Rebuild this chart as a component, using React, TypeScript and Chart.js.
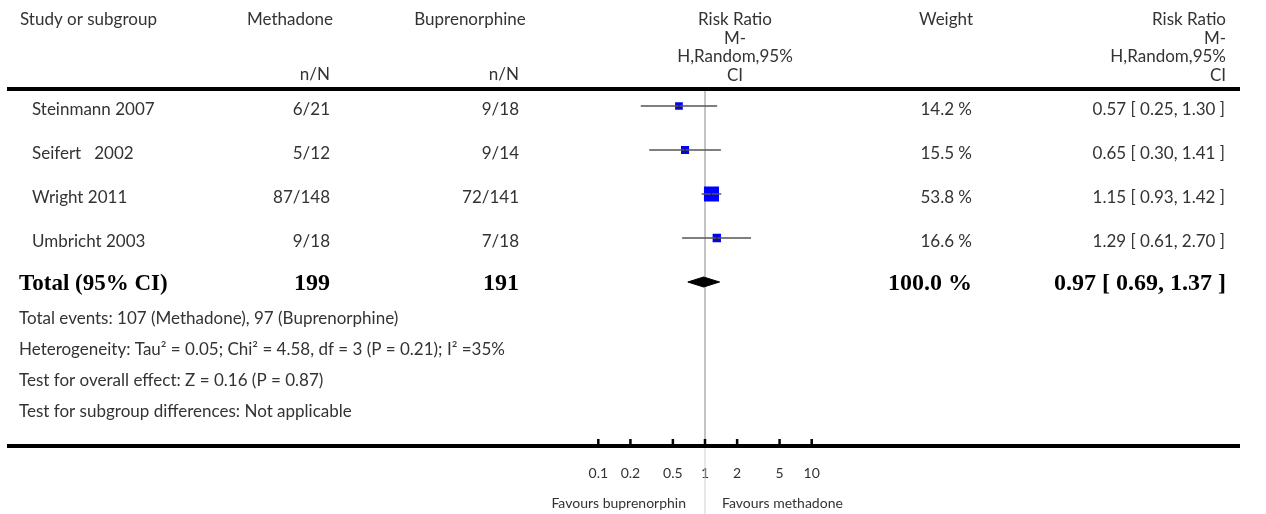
import React, { useEffect, useRef } from 'react';
import { Chart, registerables } from 'chart.js';

Chart.register(...registerables);

// ---------- data ----------
const STUDIES = ['Steinmann 2007', 'Seifert   2002', 'Wright 2011', 'Umbricht 2003'];
const METHADONE_EVENTS = [6, 5, 87, 9];
const METHADONE_TOTAL = [21, 12, 148, 18];
const BUPRENORPHINE_EVENTS = [9, 9, 72, 7];
const BUPRENORPHINE_TOTAL = [18, 14, 141, 18];
const WEIGHTS = [14.2, 15.5, 53.8, 16.6];
const RISK_RATIO = [0.57, 0.65, 1.15, 1.29];
const CI_LOW = [0.25, 0.3, 0.93, 0.61];
const CI_HIGH = [1.3, 1.41, 1.42, 2.7];

const TOTAL_LABEL = 'Total (95% CI)';
const TOTAL_METHADONE = [199];
const TOTAL_BUPRENORPHINE = [191];
const TOTAL_WEIGHT = [100.0];
const TOTAL_RR = [0.97];
const TOTAL_LOW = [0.69];
const TOTAL_HIGH = [1.37];

const FOOTER_LINES = [
  'Total events: 107 (Methadone), 97 (Buprenorphine)',
  'Heterogeneity: Tau\u00B2 = 0.05; Chi\u00B2 = 4.58, df = 3 (P = 0.21); I\u00B2 =35%',
  'Test for overall effect: Z = 0.16 (P = 0.87)',
  'Test for subgroup differences: Not applicable',
];

const TICK_VALUES = [0.1, 0.2, 0.5, 1, 2, 5, 10];
const TICK_LABELS = ['0.1', '0.2', '0.5', '1', '2', '5', '10'];
const FAVOURS_LEFT = 'Favours buprenorphin';
const FAVOURS_RIGHT = 'Favours methadone';

const HEADER_STUDY = 'Study or subgroup';
const HEADER_GROUP_A = 'Methadone';
const HEADER_GROUP_B = 'Buprenorphine';
const HEADER_NN = 'n/N';
const HEADER_WEIGHT = 'Weight';
const HEADER_RR = ['Risk Ratio', 'M-', 'H,Random,95%', 'CI'];

// ---------- layout constants ----------
const W = 1266;
const H = 514;
const SANS = 'Lato, "Open Sans", sans-serif';
const SERIF = '"Liberation Serif", "DejaVu Serif", serif';
const TEXT = '#333333';
const ROW_PX = 44;

const fmt2 = (v: number) => v.toFixed(2);
const rrText = (e: number, l: number, h: number) => `${fmt2(e)} [ ${fmt2(l)}, ${fmt2(h)} ]`;

const tablePlugin = {
  id: 'forestTable',
  beforeDatasetsDraw(chart: any) {
    const { ctx } = chart;
    const x1 = chart.scales.x.getPixelForValue(1);
    ctx.save();
    ctx.lineWidth = 1;
    ctx.strokeStyle = '#8a8a8a';
    ctx.beginPath();
    ctx.moveTo(x1, 91);
    ctx.lineTo(x1, 444);
    ctx.stroke();
    ctx.strokeStyle = '#cfcfcf';
    ctx.beginPath();
    ctx.moveTo(x1, 448);
    ctx.lineTo(x1, H);
    ctx.stroke();
    ctx.restore();
  },
  afterDraw(chart: any) {
    const { ctx } = chart;
    const xs = chart.scales.x;
    const ys = chart.scales.y;
    const rowY = (i: number) => ys.getPixelForValue(i) + 4;
    const txt = (s: string, x: number, y: number, align: CanvasTextAlign, font: string, color = TEXT) => {
      ctx.font = font;
      ctx.fillStyle = color;
      ctx.textAlign = align;
      ctx.textBaseline = 'middle';
      ctx.fillText(s, x, y);
    };
    ctx.save();
    const f = `17px ${SANS}`;
    const fb = `bold 23px ${SERIF}`;
    const fbn = `bold 24px ${SERIF}`;

    // header
    txt(HEADER_STUDY, 20, 20, 'left', f);
    txt(HEADER_GROUP_A, 290, 20, 'center', f);
    txt(HEADER_GROUP_B, 470, 20, 'center', f);
    txt(HEADER_NN, 330, 75, 'right', f);
    txt(HEADER_NN, 519, 75, 'right', f);
    const hy = [20, 38.5, 57, 75.5];
    HEADER_RR.forEach((s, k) => txt(s, 735, hy[k], 'center', f));
    txt(HEADER_WEIGHT, 946, 20, 'center', f);
    HEADER_RR.forEach((s, k) => txt(s, 1226, hy[k], 'right', f));

    // header rule
    ctx.fillStyle = '#000';
    ctx.fillRect(7, 87, 1233, 4);

    // study rows
    STUDIES.forEach((name, i) => {
      const y = rowY(i);
      txt(name, 32, y, 'left', f);
      txt(`${METHADONE_EVENTS[i]}/${METHADONE_TOTAL[i]}`, 330, y, 'right', f);
      txt(`${BUPRENORPHINE_EVENTS[i]}/${BUPRENORPHINE_TOTAL[i]}`, 519, y, 'right', f);
      txt(`${WEIGHTS[i].toFixed(1)} %`, 972, y, 'right', f);
      txt(rrText(RISK_RATIO[i], CI_LOW[i], CI_HIGH[i]), 1225, y, 'right', f);
    });

    // total row
    const ty = ys.getPixelForValue(STUDIES.length) + 2;
    txt(TOTAL_LABEL, 19, ty, 'left', fb, '#000');
    txt(String(TOTAL_METHADONE[0]), 330, ty, 'right', fbn, '#000');
    txt(String(TOTAL_BUPRENORPHINE[0]), 519, ty, 'right', fbn, '#000');
    txt(`${TOTAL_WEIGHT[0].toFixed(1)} %`, 972, ty, 'right', fbn, '#000');
    txt(rrText(TOTAL_RR[0], TOTAL_LOW[0], TOTAL_HIGH[0]), 1226, ty, 'right', fbn, '#000');

    // footer
    const fy = [319, 350, 381, 412];
    FOOTER_LINES.forEach((s, k) => txt(s, 19, fy[k], 'left', f));

    // axis rule + ticks
    ctx.fillStyle = '#000';
    ctx.fillRect(7, 444, 1233, 4);
    TICK_VALUES.forEach((v) => {
      const px = xs.getPixelForValue(v);
      ctx.fillRect(px - 1.25, 439, 2.5, 6);
    });

    // favours labels
    const x1 = xs.getPixelForValue(1);
    txt(FAVOURS_LEFT, x1 - 19, 503, 'right', `14px ${SANS}`);
    txt(FAVOURS_RIGHT, x1 + 17, 503, 'left', `14px ${SANS}`);
    ctx.restore();
  },
};

export default function App() {
  const ref = useRef<HTMLCanvasElement | null>(null);
  useEffect(() => {
    document.body.style.margin = '0';
    const canvas = ref.current;
    if (!canvas) return;

    const ciSets = STUDIES.map((_, i) => ({
      type: 'scatter' as const,
      data: [
        { x: CI_LOW[i], y: i },
        { x: CI_HIGH[i], y: i },
      ],
      showLine: true,
      borderColor: '#555555',
      borderWidth: 1.5,
      pointRadius: 0,
      order: 1,
    }));

    const diamondHalf = 5 / ROW_PX;
    const tRow = STUDIES.length;

    const chart = new Chart(canvas, {
      type: 'scatter',
      data: {
        datasets: [
          {
            data: RISK_RATIO.map((x, i) => ({ x, y: i })),
            pointStyle: 'line',
            pointRotation: 90,
            pointRadius: 3,
            borderColor: '#222222',
            borderWidth: 1,
            backgroundColor: '#222222',
            order: 0,
          },
          ...ciSets,
          {
            data: RISK_RATIO.map((x, i) => ({ x, y: i })),
            pointStyle: 'rect',
            pointRadius: WEIGHTS.map((w) => 1.45 * Math.sqrt(w)),
            backgroundColor: '#0000ff',
            borderColor: '#0000ff',
            borderWidth: 0,
            order: 2,
          },
          {
            data: [
              { x: TOTAL_LOW[0], y: tRow },
              { x: TOTAL_RR[0], y: tRow - diamondHalf },
              { x: TOTAL_HIGH[0], y: tRow },
              { x: TOTAL_RR[0], y: tRow + diamondHalf },
              { x: TOTAL_LOW[0], y: tRow },
            ],
            showLine: true,
            fill: 'shape',
            backgroundColor: '#000000',
            borderColor: '#000000',
            borderWidth: 1,
            pointRadius: 0,
            tension: 0,
            order: 0,
          },
        ] as any,
      },
      options: {
        animation: false,
        responsive: false,
        maintainAspectRatio: false,
        events: [],
        layout: { padding: { left: 598.3, right: W - 811.7, top: 89, bottom: 0 } },
        plugins: { legend: { display: false }, tooltip: { enabled: false } },
        scales: {
          x: {
            type: 'logarithmic',
            min: 0.1,
            max: 10,
            position: 'bottom',
            afterBuildTicks: (s: any) => {
              s.ticks = TICK_VALUES.map((v) => ({ value: v }));
            },
            afterFit: (s: any) => {
              s.height = H - 446;
            },
            grid: { display: false, drawTicks: false },
            border: { display: false },
            ticks: {
              autoSkip: false,
              maxRotation: 0,
              padding: 19,
              color: TEXT,
              font: { family: SANS, size: 14 },
              callback: (_v: any, i: number) => TICK_LABELS[i],
            },
          },
          y: {
            type: 'linear',
            display: false,
            reverse: true,
            min: -17 / ROW_PX,
            max: -17 / ROW_PX + 357 / ROW_PX,
          },
        },
      } as any,
      plugins: [tablePlugin],
    });
    return () => chart.destroy();
  }, []);

  return (
    <div style={{ position: 'absolute', left: 0, top: 0, width: W, height: H, background: '#fff' }}>
      <canvas ref={ref} width={W} height={H} style={{ width: W, height: H, display: 'block' }} />
    </div>
  );
}
